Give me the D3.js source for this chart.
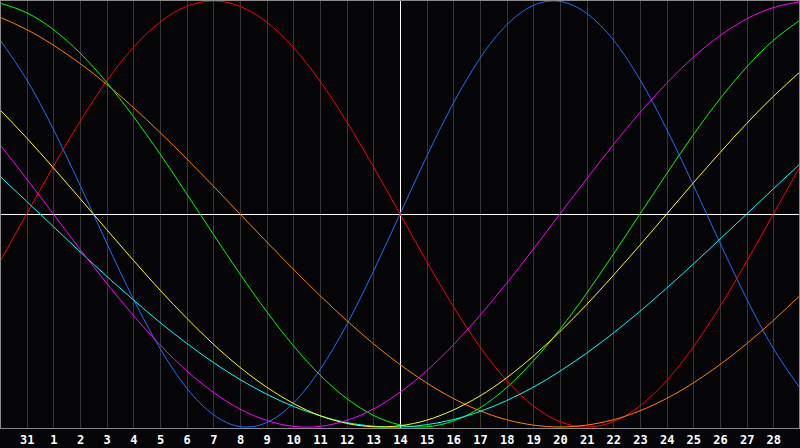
<!DOCTYPE html>
<html>
<head>
<meta charset="utf-8">
<script src="https://cdn.jsdelivr.net/npm/d3@7"></script>
<style>
  html, body { margin: 0; padding: 0; background: #050407; }
  svg { display: block; }
</style>
</head>
<body>
<div id="chart"></div>
<script>
// dias mostrados (indice 0 = 30, indice 15 = hoy 14)
const days = [30, 31, 1, 2, 3, 4, 5, 6, 7, 8, 9, 10, 11, 12, 13, 14, 15, 16, 17, 18, 19, 20, 21, 22, 23, 24, 25, 26, 27, 28, 29];
const labelIdx = d3.range(1, 30);

// valores (-1 .. 1), un valor por dia
const physical = [0.817, 0.631, 0.398, 0.136, -0.136, -0.398, -0.631, -0.817, -0.942, -0.998, -0.979, -0.888, -0.731, -0.520, -0.270, 0, 0.270, 0.520, 0.731, 0.888, 0.979, 0.998, 0.942, 0.817, 0.631, 0.398, 0.136, -0.136, -0.398, -0.631, -0.817];
const emotional = [-0.223, 0, 0.223, 0.434, 0.624, 0.782, 0.901, 0.975, 1.000, 0.975, 0.901, 0.782, 0.624, 0.434, 0.223, 0, -0.223, -0.434, -0.624, -0.782, -0.901, -0.975, -1.000, -0.975, -0.901, -0.782, -0.624, -0.434, -0.223, 0, 0.223];
const intellectual = [0.990, 0.945, 0.866, 0.756, 0.618, 0.458, 0.282, 0.095, -0.095, -0.282, -0.458, -0.618, -0.756, -0.866, -0.945, -0.990, -0.999, -0.972, -0.910, -0.815, -0.690, -0.541, -0.372, -0.189, 0, 0.189, 0.372, 0.541, 0.690, 0.815, 0.910];
const intuitive = [0.325, 0.165, 0, -0.165, -0.325, -0.476, -0.614, -0.736, -0.837, -0.916, -0.969, -0.997, -0.997, -0.969, -0.916, -0.837, -0.736, -0.614, -0.476, -0.325, -0.165, 0, 0.165, 0.325, 0.476, 0.614, 0.736, 0.837, 0.916, 0.969, 0.997];
const aesthetic = [0.489, 0.357, 0.217, 0.073, -0.073, -0.217, -0.357, -0.489, -0.611, -0.720, -0.813, -0.889, -0.947, -0.983, -0.999, -0.994, -0.968, -0.920, -0.854, -0.769, -0.667, -0.552, -0.425, -0.288, -0.146, 0, 0.146, 0.288, 0.425, 0.552, 0.667];
const awareness = [0.924, 0.866, 0.793, 0.707, 0.609, 0.500, 0.383, 0.259, 0.131, 0, -0.131, -0.259, -0.383, -0.500, -0.609, -0.707, -0.793, -0.866, -0.924, -0.966, -0.991, -1.000, -0.991, -0.966, -0.924, -0.866, -0.793, -0.707, -0.609, -0.500, -0.383];
const spiritual = [0.177, 0.059, -0.059, -0.177, -0.292, -0.403, -0.509, -0.607, -0.697, -0.777, -0.846, -0.903, -0.947, -0.979, -0.996, -1.000, -0.989, -0.965, -0.927, -0.876, -0.813, -0.738, -0.653, -0.559, -0.457, -0.348, -0.235, -0.118, 0, 0.118, 0.235];

const series = [
  { name: "physical", values: physical, color: "#1e6eff" },
  { name: "emotional", values: emotional, color: "#ff0000" },
  { name: "intellectual", values: intellectual, color: "#00ff00" },
  { name: "awareness", values: awareness, color: "#ff8000" },
  { name: "spiritual", values: spiritual, color: "#00ffff" },
  { name: "aesthetic", values: aesthetic, color: "#ffff00" },
  { name: "intuitive", values: intuitive, color: "#ff00ff" }
];

const W = 800, H = 448;
const plotH = 428;

const svg = d3.select("#chart")
  .append("svg")
  .attr("width", W)
  .attr("height", H);

svg.append("rect")
  .attr("width", W)
  .attr("height", H)
  .attr("fill", "#050407");

const x = d3.scaleLinear().domain([0, days.length - 1]).range([0, W]);
const y = d3.scaleLinear().domain([-1, 1]).range([427, 1]);

// lineas verticales de cada dia
svg.append("g")
  .selectAll("line")
  .data(labelIdx)
  .enter()
  .append("line")
  .attr("x1", d => Math.round(x(d)) + 0.5)
  .attr("x2", d => Math.round(x(d)) + 0.5)
  .attr("y1", 0)
  .attr("y2", plotH)
  .attr("stroke", "#363638")
  .attr("stroke-width", 1);

// eje cero y dia actual
svg.append("line")
  .attr("x1", 0).attr("x2", W)
  .attr("y1", y(0) + 0.5).attr("y2", y(0) + 0.5)
  .attr("stroke", "#ffffff");

svg.append("line")
  .attr("x1", x(15) + 0.5).attr("x2", x(15) + 0.5)
  .attr("y1", 0).attr("y2", plotH)
  .attr("stroke", "#ffffff");

// curvas
const linea = d3.line()
  .x((d, i) => x(i))
  .y(d => y(d))
  .curve(d3.curveNatural);

svg.append("g")
  .selectAll("path")
  .data(series)
  .enter()
  .append("path")
  .attr("d", d => linea(d.values))
  .attr("fill", "none")
  .attr("stroke", d => d.color)
  .attr("stroke-width", 1);

// borde
svg.append("rect")
  .attr("x", 0.5)
  .attr("y", 0.5)
  .attr("width", W - 1)
  .attr("height", plotH)
  .attr("fill", "none")
  .attr("stroke", "#8a8a8a");

// eje inferior
const axis = svg.append("g")
  .attr("transform", `translate(0,${plotH})`)
  .call(d3.axisBottom(x)
    .tickValues(labelIdx)
    .tickSize(0)
    .tickPadding(7)
    .tickFormat(i => days[i]));

axis.select(".domain").remove();
axis.selectAll("text")
  .attr("fill", "#ffffff")
  .style("font-family", "'DejaVu Sans Mono', monospace")
  .style("font-weight", "bold")
  .style("font-size", "12px");
</script>
</body>
</html>
